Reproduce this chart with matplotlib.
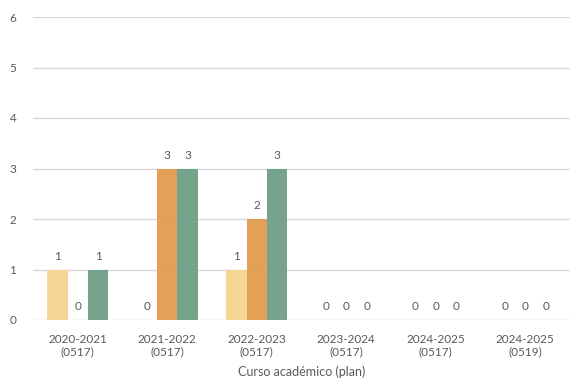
import matplotlib.pyplot as plt
import numpy as np

plt.rcParams['font.family'] = ['Lato', 'DejaVu Sans']

# data
categories = ["2020-2021\n(0517)", "2021-2022\n(0517)", "2022-2023\n(0517)",
              "2023-2024\n(0517)", "2024-2025\n(0517)", "2024-2025\n(0519)"]
serie1 = [1, 0, 1, 0, 0, 0]
serie2 = [0, 3, 2, 0, 0, 0]
serie3 = [1, 3, 3, 0, 0, 0]

colors = ["#F6D38F", "#E39B4D", "#6E9E86"]
gray = "#595959"

fig = plt.figure(figsize=(5.7, 3.9), dpi=100)
ax = fig.add_axes([33/570, 70/390, 537/570, 303/390])

x = np.arange(len(categories))
w = 0.228
for i, (vals, c) in enumerate(zip([serie1, serie2, serie3], colors)):
    bars = ax.bar(x + (i - 1) * w, vals, w, color=c, alpha=0.95, zorder=3)
    for b, v in zip(bars, vals):
        ax.text(b.get_x() + b.get_width() / 2, v + 0.15, str(v),
                ha='center', va='bottom', fontsize=8.5, color=gray)

ax.set_xlim(-0.5, len(categories) - 0.5)
ax.set_ylim(0, 6)
ax.set_yticks(range(7))
ax.grid(axis='y', color='#D9D9D9', linewidth=1, zorder=0)
for s in ax.spines.values():
    s.set_visible(False)
ax.tick_params(axis='both', length=0, labelsize=8.5, labelcolor=gray)
ax.tick_params(axis='y', pad=12)
ax.tick_params(axis='x', pad=10)
ax.set_xticks(x)
ax.set_xticklabels(categories, linespacing=1.15)
ax.set_xlabel("Curso académico (plan)", fontsize=9, color=gray, labelpad=6)

fig.savefig("out.png")
